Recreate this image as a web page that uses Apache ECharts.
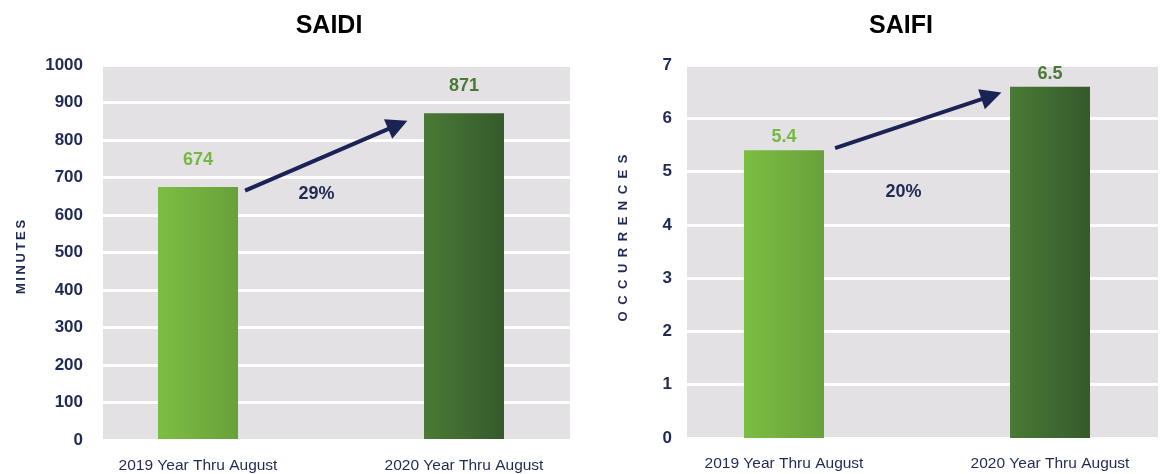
<!DOCTYPE html>
<html>
<head>
<meta charset="utf-8">
<script src="https://cdn.jsdelivr.net/npm/echarts@6/dist/echarts.min.js"></script>
<style>
  html, body { margin: 0; padding: 0; background: #fff; }
  #chart { width: 1160px; height: 474px; }
</style>
</head>
<body>
<div id="chart"></div>
<script>
// data
const categories = ['2019 Year Thru August', '2020 Year Thru August']
const saidiValues = [674, 871]
const saidiLabels = ['674', '871']
const saifiValues = [5.4, 6.59]
const saifiLabels = ['5.4', '6.5']
const saidiChange = '29%'
const saifiChange = '20%'

// annotation anchors (x on a helper axis where bars sit at 0.5 and 1.5, y in axis units)
const saidiArrow = [[0.677, 664], [1.251, 840]]
const saifiArrow = [[0.692, 5.44], [1.28, 6.42]]
const saidiChangeAt = [0.947, 653]
const saifiChangeAt = [0.951, 4.6]

const FONT = 'Liberation Sans'
const NAVY = '#1f2a55'
const BG = '#e3e1e4'

const barColors = [
  { type: 'linear', x: 0, y: 0, x2: 1, y2: 0, colorStops: [{ offset: 0, color: '#7bbe42' }, { offset: 1, color: '#68a13b' }] },
  { type: 'linear', x: 0, y: 0, x2: 1, y2: 0, colorStops: [{ offset: 0, color: '#4a7a36' }, { offset: 1, color: '#355a2b' }] }
]
const labelColors = ['#76b843', '#497a35']

const barData = (values, labels) => values.map((v, i) => ({
  value: v,
  itemStyle: { color: barColors[i] },
  label: { formatter: labels[i], color: labelColors[i] }
}))

const yAxisBase = (gridIndex, max, interval, name, gap, pad, margin) => ({
  gridIndex: gridIndex,
  type: 'value',
  min: 0,
  max: max,
  interval: interval,
  axisLine: { show: false },
  axisTick: { show: false },
  axisLabel: { color: NAVY, fontWeight: 'bold', fontSize: 17, fontFamily: FONT, margin: margin, formatter: (v) => String(v) },
  splitLine: { lineStyle: { color: '#ffffff', width: 3 } },
  name: name,
  nameLocation: 'middle',
  nameRotate: 90,
  nameGap: gap,
  nameTextStyle: { color: NAVY, fontWeight: 'bold', fontSize: 13, fontFamily: FONT, padding: pad }
})

const hiddenY = (gridIndex, max) => ({ gridIndex: gridIndex, type: 'value', min: 0, max: max, show: false, splitLine: { show: false } })

// category axis whose ticks sit on the grid edges, so the grid spans bar centre to bar centre
const catAxis = (gridIndex, margin) => ({
  gridIndex: gridIndex,
  type: 'category',
  boundaryGap: false,
  data: categories,
  axisLine: { show: false },
  axisTick: { show: false },
  splitLine: { show: false },
  axisLabel: { color: NAVY, fontSize: 15.5, fontFamily: FONT, margin: margin }
})

const helperX = (gridIndex) => ({ gridIndex: gridIndex, type: 'value', min: 0.5, max: 1.5, show: false, splitLine: { show: false } })

const arrowSeries = (xi, yi, pts) => ({
  type: 'lines',
  coordinateSystem: 'cartesian2d',
  xAxisIndex: xi,
  yAxisIndex: yi,
  symbol: ['none', 'triangle'],
  symbolSize: [0, 21],
  lineStyle: { color: '#1b2354', width: 4, opacity: 1 },
  silent: true,
  z: 5,
  data: [{ coords: pts }]
})

const changeSeries = (xi, yi, at, text) => ({
  type: 'scatter',
  xAxisIndex: xi,
  yAxisIndex: yi,
  symbolSize: 1,
  silent: true,
  itemStyle: { color: 'rgba(0,0,0,0)', opacity: 1 },
  label: {
    show: true, position: [0, 0], align: 'center', verticalAlign: 'middle', opacity: 1,
    formatter: text, color: NAVY, fontWeight: 'bold', fontSize: 18, fontFamily: FONT
  },
  data: [at]
})

const chart = echarts.init(document.getElementById('chart'))
const option = {
  animation: false,
  title: [
    { text: 'SAIDI', left: 324, top: 9, textAlign: 'center', textStyle: { color: '#000', fontSize: 25, fontWeight: 'bold', fontFamily: FONT } },
    { text: 'SAIFI', left: 896, top: 9, textAlign: 'center', textStyle: { color: '#000', fontSize: 25, fontWeight: 'bold', fontFamily: FONT } }
  ],
  grid: [
    { left: 103, top: 65, width: 467, height: 375, show: true, backgroundColor: BG, borderWidth: 0 },
    { left: 198, top: 65, width: 266, height: 375 },
    { left: 687, top: 65, width: 471, height: 373, show: true, backgroundColor: BG, borderWidth: 0 },
    { left: 784, top: 65, width: 266, height: 373 }
  ],
  xAxis: [
    { gridIndex: 0, type: 'value', show: false, splitLine: { show: false } },
    catAxis(1, 19),
    helperX(1),
    { gridIndex: 2, type: 'value', show: false, splitLine: { show: false } },
    catAxis(3, 18),
    helperX(3)
  ],
  yAxis: [
    yAxisBase(0, 1000, 100, 'M\u2009I\u2009N\u2009U\u2009T\u2009E\u2009S', 75, [0, 9, 0, 0], 20),
    hiddenY(1, 1000),
    yAxisBase(2, 7, 1, 'O\u2002C\u2002C\u2002U\u2002R\u2002R\u2002E\u2002N\u2002C\u2002E\u2002S', 57, [0, 0, 0, 27], 15),
    hiddenY(3, 7)
  ],
  series: [
    {
      type: 'bar',
      xAxisIndex: 1,
      yAxisIndex: 1,
      barWidth: 80,
      clip: false,
      label: { show: true, position: 'top', distance: 18, fontWeight: 'bold', fontSize: 18, fontFamily: FONT },
      data: barData(saidiValues, saidiLabels)
    },
    arrowSeries(2, 1, saidiArrow),
    changeSeries(2, 1, saidiChangeAt, saidiChange),
    {
      type: 'bar',
      xAxisIndex: 4,
      yAxisIndex: 3,
      barWidth: 80,
      clip: false,
      label: { show: true, position: 'top', distance: 4, fontWeight: 'bold', fontSize: 18, fontFamily: FONT },
      data: barData(saifiValues, saifiLabels)
    },
    arrowSeries(5, 3, saifiArrow),
    changeSeries(5, 3, saifiChangeAt, saifiChange)
  ]
}
chart.setOption(option)
</script>
</body>
</html>
